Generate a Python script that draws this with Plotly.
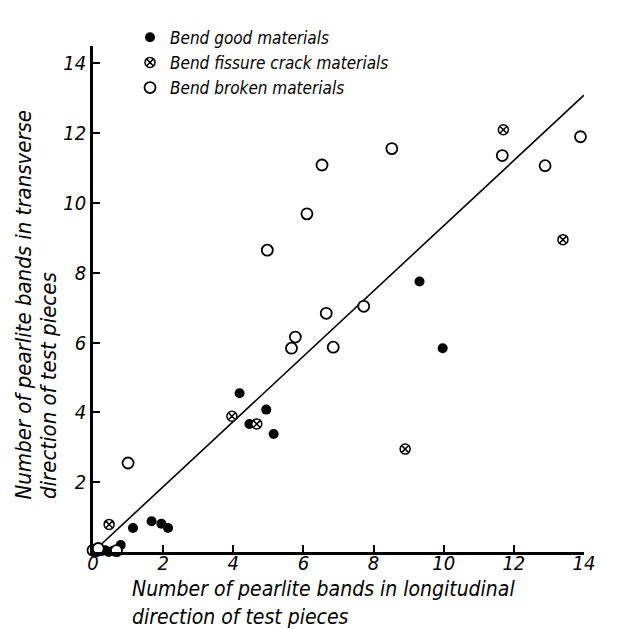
import plotly.graph_objects as go

# ---- data ----
good_x = [0.12, 0.25, 0.35, 0.45, 0.55, 0.79, 1.14, 1.67, 1.95, 2.14, 4.18, 4.94, 4.46, 5.15, 9.31, 9.97]
good_y = [0.00, 0.03, 0.05, 0.00, 0.03, 0.20, 0.69, 0.88, 0.81, 0.69, 4.55, 4.08, 3.67, 3.38, 7.75, 5.84]

fissure_x = [0.46, 3.96, 4.67, 8.90, 13.40, 11.70]
fissure_y = [0.79, 3.89, 3.67, 2.95, 8.95, 12.10]

broken_x = [0.00, 0.15, 0.67, 1.00, 5.66, 5.77, 6.85, 6.65, 7.72, 4.97, 6.10, 6.53, 8.52, 11.67, 12.89, 13.90]
broken_y = [0.05, 0.10, 0.04, 2.55, 5.84, 6.16, 5.87, 6.84, 7.04, 8.65, 9.69, 11.09, 11.56, 11.36, 11.07, 11.90]

fit_x = [0.10, 14.00]
fit_slope = 0.935
fit_intercept = 0.0
fit_y = [fit_slope * v + fit_intercept for v in fit_x]

x_ticks = [0, 2, 4, 6, 8, 10, 12, 14]
y_ticks = [2, 4, 6, 8, 10, 12, 14]

FONT = "DejaVu Sans Condensed, DejaVu Sans, sans-serif"

fig = go.Figure()
fig.add_trace(go.Scatter(x=fit_x, y=fit_y, mode="lines", line=dict(color="black", width=1.6),
                         showlegend=False, hoverinfo="skip", cliponaxis=False))
fig.add_trace(go.Scatter(x=good_x, y=good_y, mode="markers", name="Bend good materials",
                         marker=dict(symbol="circle", size=10, color="black"), cliponaxis=False))
fig.add_trace(go.Scatter(x=fissure_x, y=fissure_y, mode="markers", name="Bend fissure crack materials",
                         marker=dict(symbol="circle-x", size=10, color="white",
                                     line=dict(color="black", width=1.5)), cliponaxis=False))
fig.add_trace(go.Scatter(x=broken_x, y=broken_y, mode="markers", name="Bend broken materials",
                         marker=dict(symbol="circle", size=11, color="white",
                                     line=dict(color="black", width=1.8)), cliponaxis=False))

tickfont = dict(family=FONT, size=20, color="black", style="italic")
fig.update_xaxes(range=[0, 14], showgrid=False, zeroline=False, showline=True, linecolor="black",
                 linewidth=2.5, ticks="inside", ticklen=7, tickwidth=1.5, tickcolor="black",
                 tickvals=x_ticks, ticktext=[str(v) for v in x_ticks], tickfont=tickfont,
                 ticklabelstandoff=-9)
fig.update_yaxes(range=[0, 14.5], showgrid=False, zeroline=False, showline=True, linecolor="black",
                 linewidth=2.5, ticks="inside", ticklen=7, tickwidth=1.5, tickcolor="black",
                 tickvals=y_ticks, ticktext=[str(v) for v in y_ticks], tickfont=tickfont)

W, H = 620, 629
L, R, T, B = 85, 44, 23, 85
pw, ph = W - L - R, H - T - B

def px(xp):
    return (xp - L) / pw

def py(yp):
    return (H - B - yp) / ph

afont = dict(family=FONT, size=21, color="black", style="italic")
yfont = dict(family=FONT, size=22, color="black", style="italic")
ann = [
    dict(text="Number of pearlite bands in longitudinal", x=px(122), y=py(582), xanchor="left", yanchor="middle", font=afont),
    dict(text="direction of test pieces", x=px(122), y=py(611), xanchor="left", yanchor="middle", font=afont),
    dict(text="Number of pearlite bands in transverse", x=px(15), y=py(492), xanchor="center", yanchor="bottom", textangle=-90, font=yfont),
    dict(text="direction of test pieces", x=px(41), y=py(492), xanchor="center", yanchor="bottom", textangle=-90, font=yfont),
]
for a in ann:
    a.update(xref="paper", yref="paper", showarrow=False)

fig.update_layout(
    width=W, height=H, margin=dict(l=L, r=R, t=T, b=B),
    plot_bgcolor="white", paper_bgcolor="white",
    annotations=ann,
    legend=dict(x=px(122), y=py(-4), xanchor="left", yanchor="top", bgcolor="rgba(0,0,0,0)",
                font=dict(family=FONT, size=17, color="black", style="italic"),
                itemwidth=30, tracegroupgap=0),
)

fig.write_html("out.html")
